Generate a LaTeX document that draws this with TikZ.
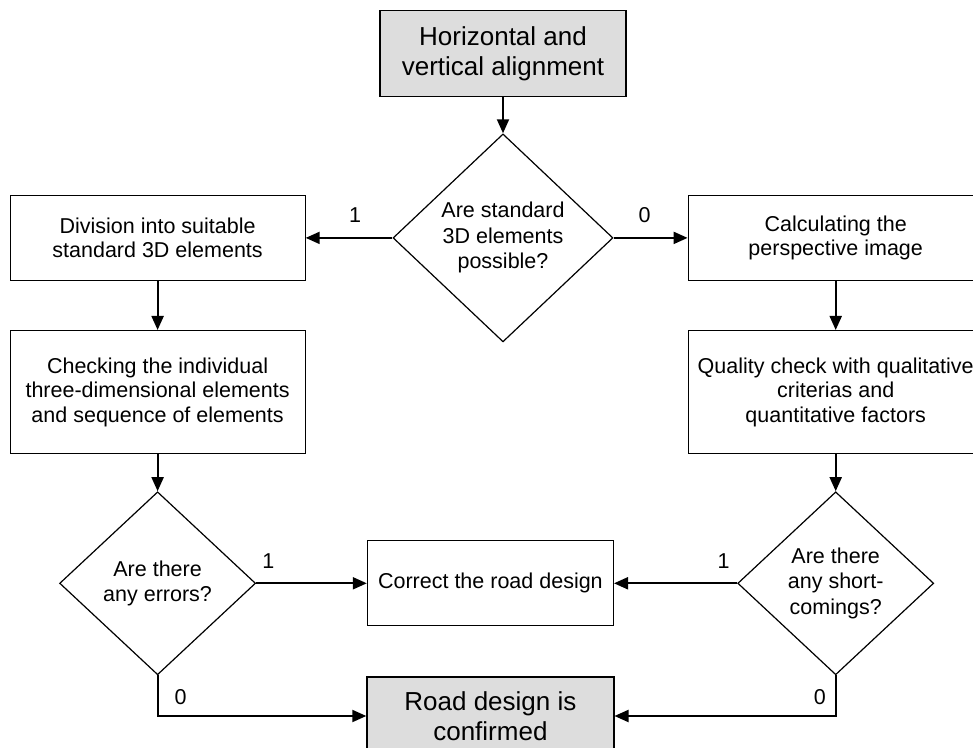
\documentclass[tikz,border=0pt]{standalone}
\usepackage{fontspec}
\setmainfont{Liberation Sans}
\usetikzlibrary{arrows.meta, positioning, shapes.geometric}
\definecolor{boxgray}{RGB}{221,221,221}

\begin{document}
\begin{tikzpicture}[
  x=1pt, y=1pt,
  >={Triangle[length=14pt, width=12pt]},
  stepbox/.style={rectangle, draw=black, line width=1.2pt, fill=white, align=center, font=\fontsize{21.5}{24.5}\selectfont, minimum width=295pt, minimum height=85pt, inner sep=2pt},
  termbox/.style={rectangle, draw=black, line width=1.2pt, fill=boxgray, align=center, font=\fontsize{26}{30.5}\selectfont, minimum width=246pt, minimum height=86pt, inner sep=2pt},
  decision/.style={diamond, draw=black, line width=1.2pt, fill=white, align=center, font=\fontsize{21.5}{25.5}\selectfont, inner sep=0pt, minimum width=196pt, minimum height=183pt},
  flow/.style={->, line width=2pt},
  answer/.style={font=\fontsize{21.5}{24}\selectfont, inner sep=0pt}
]
\useasboundingbox (0,0) rectangle (973,747);

% Start and first decision
\node[termbox] (align) at (503,693.3) {Horizontal and\\vertical alignment};
\node[decision, below=36pt of align, minimum width=220pt, minimum height=208pt] (std) {Are standard\\3D elements\\possible?};

% Left branch
\node[stepbox, left=86.7pt of std] (divide) {Division into suitable\\standard 3D elements};
\node[stepbox, below=49pt of divide, minimum height=122.7pt] (check) {Checking the individual\\three-dimensional elements\\and sequence of elements};
\node[decision, below=37.3pt of check] (errors) {Are there\\any errors?};

% Right branch
\node[stepbox, right=74pt of std] (persp) {Calculating the\\perspective image};
\node[stepbox, below=49pt of persp, minimum height=122.7pt] (quality) {Quality check with qualitative\\criterias and\\quantitative factors};
\node[decision, below=37.3pt of quality] (short) {Are there\\any short-\\comings?};

% Results
\node[stepbox, right=110.6pt of errors, minimum width=246pt] (correct) {Correct the road design};
\node[termbox, below=50pt of correct, minimum width=247pt, minimum height=78pt] (confirmed) {Road design is\\confirmed};

\draw[flow] (align) -- (std);
\draw[flow] (std) -- node[answer, pos=0.43, above=14pt] {1} (divide);
\draw[flow] (std) -- node[answer, pos=0.42, above=14pt] {0} (persp);
\draw[flow] (divide) -- (check);
\draw[flow] (persp) -- (quality);
\draw[flow] (check) -- (errors);
\draw[flow] (quality) -- (short);

\draw[flow] (errors) -- node[answer, pos=0.11, above=14pt] {1} (correct);
\draw[flow] (short) -- node[answer, pos=0.11, above=14pt] {1} (correct);
\draw[flow] (errors.south) |- node[answer, pos=0.5, anchor=south west, xshift=16pt, yshift=10pt] {0} (confirmed.west);
\draw[flow] (short.south) |- node[answer, pos=0.5, anchor=south east, xshift=-9pt, yshift=10pt] {0} (confirmed.east);

\end{tikzpicture}
\end{document}
